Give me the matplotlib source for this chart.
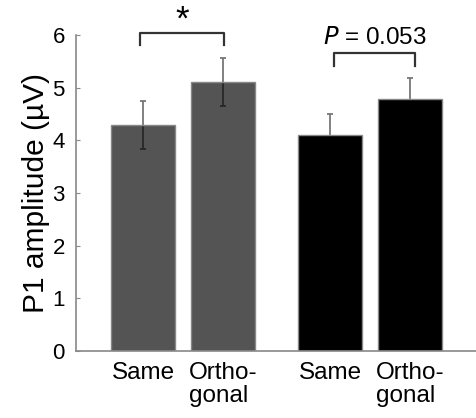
import matplotlib
matplotlib.use("Agg")
import matplotlib.pyplot as plt
import numpy as np

plt.rcParams["font.family"] = ["Liberation Sans", "DejaVu Sans"]

# data
labels = ["Same", "Ortho-\ngonal", "Same", "Ortho-\ngonal"]
means = [4.29, 5.11, 4.10, 4.78]
errors = [0.45, 0.45, 0.40, 0.40]
colors = [(0, 0, 0, 0.67), (0, 0, 0, 0.67), (0, 0, 0, 1.0), (0, 0, 0, 1.0)]
positions = [0.0, 1.0, 2.34, 3.34]

fig = plt.figure(figsize=(4.77, 4.18), dpi=100)
ax = fig.add_axes([76 / 477, 67 / 418, 401 / 477, 316 / 418])

# error bars sit behind the bars; the grey bars are translucent
ax.errorbar(positions, means, yerr=errors, fmt="none", ecolor="#777777",
            elinewidth=1.3, capsize=2.5, capthick=1.3, zorder=1)
ax.bar(positions, means, width=0.8, color=colors, edgecolor="#888888", linewidth=1.0, zorder=2)

ax.set_xlim(-0.84, 4.175)
ax.set_ylim(0, 6)
ax.set_yticks(range(0, 7))
ax.set_xticks(positions)
ax.set_xticklabels(labels, fontsize=17.5, multialignment="left", linespacing=1.05)
ax.tick_params(axis="x", length=0, pad=8)
ax.tick_params(axis="y", direction="in", length=3, color="#888888", labelsize=16, pad=8)
ax.set_ylabel("P1 amplitude (µV)", fontsize=21.5, labelpad=2)

for side in ["top", "right"]:
    ax.spines[side].set_visible(False)
for side in ["left", "bottom"]:
    ax.spines[side].set_color("#888888")
    ax.spines[side].set_linewidth(1.2)


# significance brackets
def bracket(x0, x1, y_top, y_bot):
    ax.plot([x0, x0, x1, x1], [y_bot, y_top, y_top, y_bot], color="#333333",
            lw=1.6, clip_on=False, zorder=4)
    return (x0 + x1) / 2


xm = bracket(-0.04, 1.01, 6.04, 5.81)
ax.text(xm, 6.10, "*", ha="center", va="baseline", fontsize=25, clip_on=False)

xm = bracket(2.39, 3.40, 5.66, 5.42)
ax.text(xm, 5.83, r"$\it{P}$ = 0.053", ha="center", va="baseline",
        fontsize=17.5, clip_on=False)

fig.savefig("out.png", dpi=100)
